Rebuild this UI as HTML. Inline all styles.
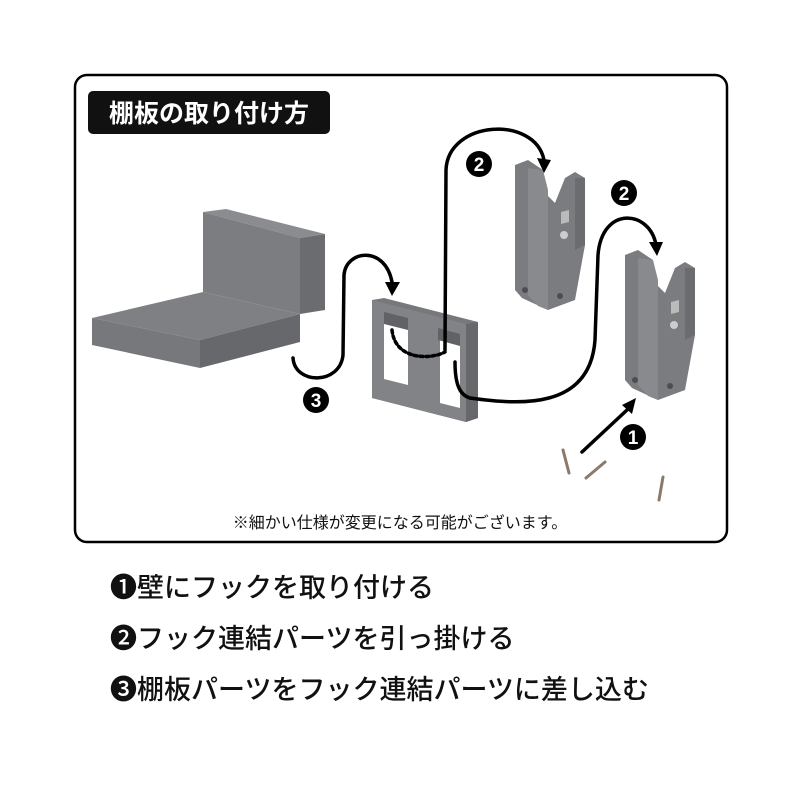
<!DOCTYPE html>
<html><head><meta charset="utf-8"><style>
body{margin:0;background:#fff;width:800px;height:800px;overflow:hidden;font-family:"Liberation Sans","Noto Sans CJK JP",sans-serif}
.l{position:absolute;left:110px;font-size:27px;color:#111;white-space:nowrap;font-weight:500}
</style></head><body>
<svg width="800" height="800" style="position:absolute;left:0;top:0" font-family="Liberation Sans, Noto Sans CJK JP, sans-serif">
<rect x="75" y="75" width="652" height="467" rx="12" fill="#fff" stroke="#000" stroke-width="2.5"/>
<rect x="88" y="91" width="242" height="43" rx="5" fill="#111"/>
<text x="209" y="122" fill="#fff" font-size="25" font-weight="bold" text-anchor="middle">棚板の取り付け方</text>
<!-- shelf -->
<polygon points="203,212 226,209 325,234 300,238" fill="#8a8c90"/>
<polygon points="203,212 300,238 300,314 203,292" fill="#7b7d81"/>
<polygon points="300,238 325,234 325,310 300,314" fill="#6a6c70"/>
<polygon points="92,318 203,292 300,314 200,340" fill="#7e8084"/>
<polygon points="92,318 200,340 200,368 92,345" fill="#76787c"/>
<polygon points="200,340 300,314 300,342 200,368" fill="#66686c"/>
<!-- plate -->
<polygon points="372,300 384,298 478,322 478,418 466,422 372,398" fill="#76787c"/>
<polygon points="372,300 466,324 466,422 372,398" fill="#818387"/>
<polygon points="466,324 478,322 478,418 466,422" fill="#66686c"/>
<polygon points="384,320 408,326 408,385 384,379" fill="#fff"/>
<polygon points="440,336 460,341 460,408 440,403" fill="#fff"/>
<polygon points="384,312 408,318 408,330 384,324" fill="#606266"/>
<polygon points="438,328 460,334 460,346 438,340" fill="#606266"/>
<!-- hooks -->
<g id="h">
<polygon points="515,165 528,160 543,170 545,193 555,203 565,178 575,172 585,178 585,245 575,300 548,310 522,298 515,290" fill="#7a7c80"/>
<polygon points="528,168 543,170 548,190 548,310 538,306 528,295" fill="#888a8e"/>
<polygon points="575,178 585,178 585,245 575,250" fill="#6a6c70"/>
<circle cx="564" cy="235" r="4" fill="#ccc"/>
<polygon points="561,212 569,210 569,222 561,224" fill="#bbb"/>
<circle cx="525" cy="290" r="3" fill="#4b4d51"/>
<circle cx="560" cy="296" r="3" fill="#4b4d51"/>
</g>
<use href="#h" transform="translate(110,90)"/>
<!-- arrows -->
<g fill="none" stroke="#000" stroke-width="3.5" stroke-linecap="round">
<path d="M293,358 C295,385 340,385 343,355 L344,275 C346,250 385,245 392,282"/>
<path d="M392,330 C395,360 430,360 445,352" stroke-dasharray="3,3"/>
<path d="M445,350 L446,170 C448,120 535,115 544,160"/>
<path d="M455,362 C455,385 460,395 470,398" />
<path d="M470,398 C520,405 590,410 595,340 L598,255 C602,205 650,210 656,245"/>
<path d="M582,452 L627,410"/>
</g>
<g fill="#000">
<polygon points="385,282 400,282 392,296"/>
<polygon points="537,158 551,160 544,173"/>
<polygon points="649,242 663,242 657,256"/>
<polygon points="622,405 636,398 632,414"/>
</g>
<g font-size="19" font-weight="bold" text-anchor="middle">
<circle cx="479" cy="164" r="13"/><text x="479" y="171" fill="#fff">2</text>
<circle cx="624" cy="193" r="13"/><text x="624" y="200" fill="#fff">2</text>
<circle cx="316" cy="400" r="13"/><text x="316" y="407" fill="#fff">3</text>
<circle cx="633" cy="437" r="13"/><text x="633" y="444" fill="#fff">1</text>
</g>
<!-- screws -->
<g stroke="#8a7a6a" stroke-width="3" stroke-linecap="round">
<line x1="563" y1="450" x2="569" y2="473"/>
<line x1="605" y1="462" x2="586" y2="478"/>
<line x1="663" y1="477" x2="659" y2="500"/>
</g>
<text x="400" y="528" font-size="16" text-anchor="middle" fill="#111">※細かい仕様が変更になる可能がございます。</text>
</svg>
<div class="l" style="top:566px">❶壁にフックを取り付ける</div>
<div class="l" style="top:617px">❷フック連結パーツを引っ掛ける</div>
<div class="l" style="top:668px">❸棚板パーツをフック連結パーツに差し込む</div>
</body></html>
